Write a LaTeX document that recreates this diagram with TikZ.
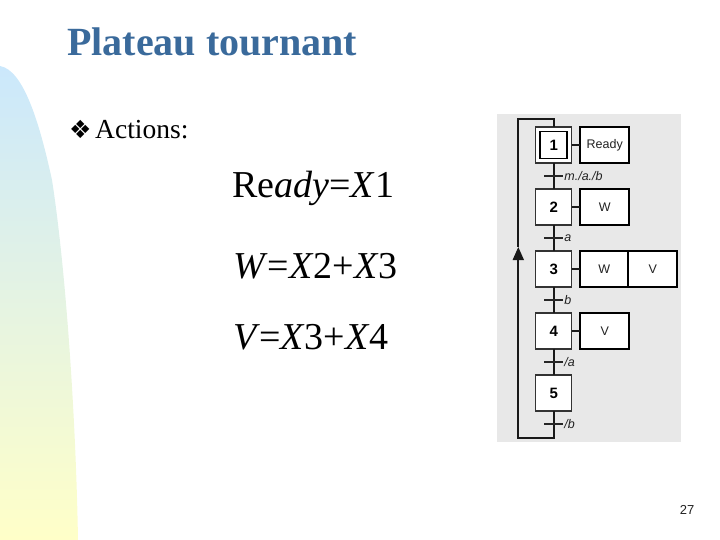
\documentclass[tikz,border=0pt]{standalone}
\usepackage{fontspec}
\setmainfont{Liberation Serif}
\newfontfamily\labelfont{Liberation Sans}
\newfontfamily\bulletfont{DejaVu Sans}
\usetikzlibrary{arrows.meta, positioning}
\definecolor{titleblue}{HTML}{3A6A9B}
\definecolor{panelgrey}{HTML}{E8E8E8}
\definecolor{blobblue}{HTML}{CBE8FC}
\definecolor{blobyellow}{HTML}{FFFFC8}
\definecolor{inktext}{HTML}{222222}
\tikzset{
    stepbox/.style={
        draw=black!80,
        fill=white,
        line width=1.2pt,
        outer sep=0pt,
        minimum width=36pt,
        minimum height=36pt,
        font=\labelfont\bfseries\fontsize{15}{15}\selectfont
    },
    initbox/.style={
        draw=black,
        line width=1.5pt,
        outer sep=0pt,
        minimum width=27pt,
        minimum height=27pt,
        font=\labelfont\bfseries\fontsize{15}{15}\selectfont
    },
    actionbox/.style={
        draw=black,
        fill=white,
        line width=1.7pt,
        outer sep=0pt,
        minimum width=49pt,
        minimum height=36pt,
        text=inktext,
        font=\labelfont\fontsize{12.5}{12.5}\selectfont
    },
    transbar/.style={
        fill=black!85,
        inner sep=0pt,
        outer sep=0pt,
        minimum width=19pt,
        minimum height=1.6pt
    },
    translabel/.style={
        inner sep=0pt,
        text=inktext,
        font=\labelfont\itshape\fontsize{12.5}{12.5}\selectfont
    },
    line/.style={line width=1.7pt, black!90},
    equation/.style={anchor=base west, inner sep=0pt, font=\fontsize{38}{38}\selectfont},
    every node/.style={font=\small}
}
\begin{document}
\begin{tikzpicture}[x=1pt, y=-1pt]
\useasboundingbox (0,0) rectangle (720,540);

% background shape on the left
\shade[top color=blobblue, bottom color=blobyellow] (0,540) -- (0,66)
    .. controls (24,70) and (40,125) .. (52,180)
    .. controls (66,270) and (76,420) .. (78,540) -- cycle;

\node[anchor=base west, inner sep=0pt, text=titleblue, font=\bfseries\fontsize{40}{40}\selectfont] (title) at (67,56) {Plateau tournant};
\node[anchor=base west, inner sep=0pt, font=\bulletfont\fontsize{25}{25}\selectfont] (bullet) at (69,139) {❖};
\node[anchor=base west, inner sep=0pt, font=\fontsize{27.5}{27.5}\selectfont] (actions) at (95,139) {Actions:};

\node[equation] (eqready) at (232,198) {Re\textit{ady}=\textit{X}1};
\node[equation] (eqw) at (233,278.5) {\textit{W}=\textit{X}2+\textit{X}3};
\node[equation] (eqv) at (233,349) {\textit{V}\kern-1pt=\textit{X}3+\textit{X}4};

\fill[panelgrey] (497,114) rectangle (681,442);

% steps
\node[stepbox] (s1) at (553.7,145) {};
\node[initbox] (s1in) at (s1.center) {1};
\node[transbar, below=12.2pt of s1] (t1) {};
\node[stepbox, below=12.2pt of t1] (s2) {2};
\node[transbar, below=12.2pt of s2] (t2) {};
\node[stepbox, below=12.2pt of t2] (s3) {3};
\node[transbar, below=12.2pt of s3] (t3) {};
\node[stepbox, below=12.2pt of t3] (s4) {4};
\node[transbar, below=12.2pt of s4] (t4) {};
\node[stepbox, below=12.2pt of t4] (s5) {5};
\node[transbar, below=12.2pt of s5] (t5) {};

% actions
\node[actionbox, right=8.5pt of s1] (a1) {Ready};
\node[actionbox, right=8.5pt of s2] (a2) {W};
\node[actionbox, minimum width=48pt, right=8.5pt of s3] (a3) {W};
\node[actionbox, right=0pt of a3] (a3v) {V};
\node[actionbox, right=8.5pt of s4] (a4) {V};

% transition labels
\node[translabel, right=1pt of t1] (l1) {m./a./b};
\node[translabel, right=1pt of t2] (l2) {a};
\node[translabel, right=1pt of t3] (l3) {b};
\node[translabel, right=1pt of t4] (l4) {/a};
\node[translabel, right=1pt of t5] (l5) {/b};

\draw[line] (s1) -- (t1);
\draw[line] (t1) -- (s2);
\draw[line] (s2) -- (t2);
\draw[line] (t2) -- (s3);
\draw[line] (s3) -- (t3);
\draw[line] (t3) -- (s4);
\draw[line] (s4) -- (t4);
\draw[line] (t4) -- (s5);
\draw[line] (s5) -- (t5);

\draw[line] (s1) -- (a1);
\draw[line] (s2) -- (a2);
\draw[line] (s3) -- (a3);
\draw[line] (s4) -- (a4);

% return loop
\coordinate[below=13pt of t5] (loopbot);
\coordinate[above=8pt of s1] (looptop);
\coordinate (looptip) at (518.3,247);
\draw[line, -{Triangle[length=13pt, width=11pt]}] (t5) -- (loopbot) -| (looptip);
\draw[line] (looptip) |- (looptop) -- (s1);

\node[inner sep=0pt, font=\labelfont\fontsize{13}{13}\selectfont, text=inktext] (pagenum) at (687,510) {27};
\end{tikzpicture}
\end{document}
